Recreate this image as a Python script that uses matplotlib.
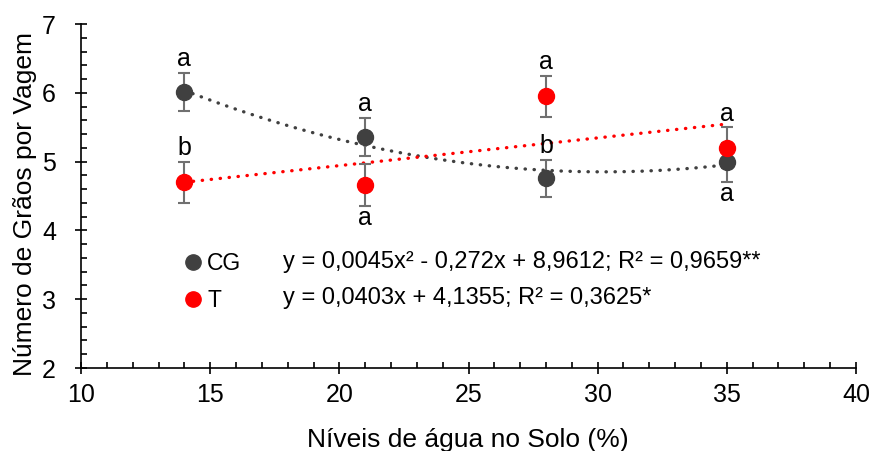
import numpy as np
import matplotlib
matplotlib.use('Agg')
import matplotlib.pyplot as plt
from matplotlib.lines import Line2D
from matplotlib.ticker import MultipleLocator

plt.rcParams['font.family'] = ['Liberation Sans', 'DejaVu Sans']

# data
niveis = [14, 21, 28, 35]
cg = [6.01, 5.36, 4.76, 4.99]
cg_err = [0.28, 0.28, 0.27, 0.28]
t = [4.70, 4.66, 5.95, 5.20]
t_err = [0.30, 0.30, 0.30, 0.30]

cg_letras = ['a', 'a', 'b', 'a']
cg_lado = ['above', 'above', 'above', 'below']
t_letras = ['b', 'a', 'a', 'a']
t_lado = ['above', 'below', 'above', 'above']

# trend line coefficients (as printed on the chart)
cg_coef = [0.0045, -0.272, 8.9612]
t_coef = [0.0403, 4.1355]
cg_eq = 'y = 0,0045x² - 0,272x + 8,9612; R² = 0,9659**'
t_eq = 'y = 0,0403x + 4,1355; R² = 0,3625*'

c_cg = '#404040'
c_t = '#FF0000'
c_err = '#707070'

fig = plt.figure(figsize=(8.75, 4.51), dpi=100)
ax = fig.add_axes([81/875, 83/451, 775/875, 344/451])

xs = np.linspace(niveis[0], niveis[-1], 200)
dots = (0, (0.1, 2.6))
ax.plot(xs, np.polyval(cg_coef, xs), color=c_cg, lw=2.4, linestyle=dots,
        dash_capstyle='round', zorder=2)
ax.plot(xs, np.polyval(t_coef, xs), color=c_t, lw=2.4, linestyle=dots,
        dash_capstyle='round', zorder=2)

for y, e, c in [(cg, cg_err, c_cg), (t, t_err, c_t)]:
    ax.errorbar(niveis, y, yerr=e, fmt='none', ecolor=c_err, elinewidth=1.5,
                capsize=4, capthick=1.5, zorder=3)
    ax.plot(niveis, y, 'o', color=c, ms=11.5, zorder=4, linestyle='none')

# letters over / under the error bars
for y, e, letras, lados in [(cg, cg_err, cg_letras, cg_lado), (t, t_err, t_letras, t_lado)]:
    for xi, yi, ei, l, lado in zip(niveis, y, e, letras, lados):
        if lado == 'above':
            ax.annotate(l, (xi, yi + ei), xytext=(0, 1), textcoords='offset points',
                        ha='center', va='bottom', fontsize=18)
        else:
            ax.annotate(l, (xi, yi - ei), xytext=(0, 0), textcoords='offset points',
                        ha='center', va='top', fontsize=18)

# legend-like block
handles = [Line2D([], [], marker='o', color=c_cg, ms=11, linestyle='none'),
           Line2D([], [], marker='o', color=c_t, ms=11, linestyle='none')]
ax.legend(handles, ['CG', 'T'], loc='upper left', bbox_to_anchor=(0.108, 0.37),
          frameon=False, fontsize=16.5, handletextpad=-0.15, labelspacing=0.6,
          handlelength=1.5, borderpad=0)
ax.text(0.261, 0.308, cg_eq, transform=ax.transAxes, fontsize=17, va='center')
ax.text(0.261, 0.203, t_eq, transform=ax.transAxes, fontsize=17, va='center')

ax.set_xlim(10, 40)
ax.set_ylim(2, 7)
ax.xaxis.set_major_locator(MultipleLocator(5))
ax.xaxis.set_minor_locator(MultipleLocator(1))
ax.yaxis.set_major_locator(MultipleLocator(1))
ax.yaxis.set_minor_locator(MultipleLocator(0.2))
ax.tick_params(which='major', direction='inout', length=8, width=1.2, labelsize=18)
ax.tick_params(axis='x', which='major', pad=7)
ax.tick_params(axis='y', which='major', pad=14)
ax.tick_params(which='minor', direction='in', length=4, width=1.2)
for s in ['top', 'right']:
    ax.spines[s].set_visible(False)
for s in ['left', 'bottom']:
    ax.spines[s].set_linewidth(1.2)

ax.set_xlabel('Níveis de água no Solo (%)', fontsize=19)
ax.set_ylabel('Número de Grãos por Vagem', fontsize=19)
ax.xaxis.set_label_coords(0.4995, -0.175)
ax.yaxis.set_label_coords(-0.057, 0.477)

fig.savefig('out.png', dpi=100)
